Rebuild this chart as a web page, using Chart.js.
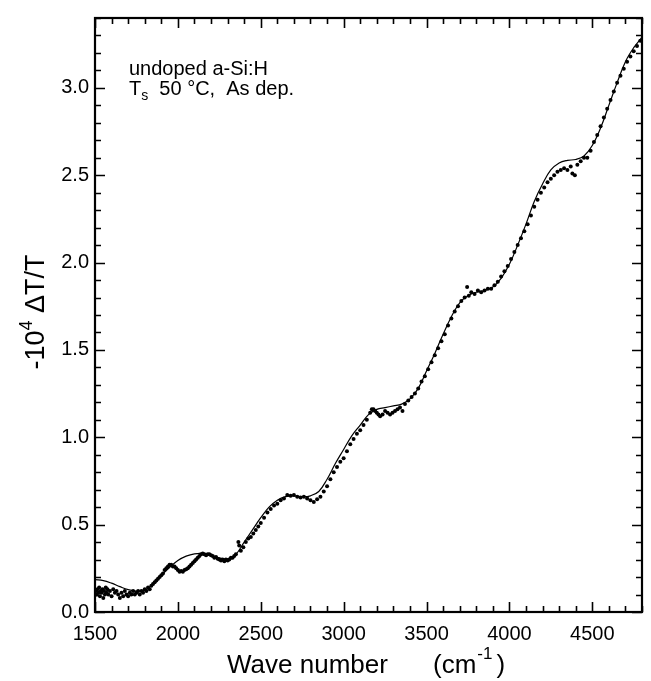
<!DOCTYPE html>
<html><head><meta charset="utf-8">
<script src="https://cdn.jsdelivr.net/npm/chart.js@4/dist/chart.umd.min.js"></script>
<style>html,body{margin:0;padding:0;background:#fff}canvas{display:block}</style>
</head><body>
<canvas id="c" width="651" height="681"></canvas>
<script>
// Fitted curve (solid line)
const fitX = [1500,1550,1600,1650,1700,1750,1800,1850,1900,1950,2000,2050,2100,2150,2200,2250,2300,2350,2400,2450,2500,2550,2600,2650,2700,2750,2800,2850,2900,2950,3000,3050,3100,3150,3200,3250,3300,3350,3400,3450,3500,3550,3600,3650,3700,3750,3800,3850,3900,3950,4000,4050,4100,4150,4200,4250,4300,4350,4400,4450,4500,4550,4600,4650,4700,4750,4800];
const fitY = [0.185,0.18,0.165,0.145,0.128,0.12,0.125,0.16,0.21,0.255,0.295,0.32,0.333,0.335,0.325,0.31,0.305,0.33,0.40,0.47,0.54,0.60,0.64,0.66,0.665,0.66,0.665,0.69,0.76,0.85,0.93,1.01,1.07,1.13,1.16,1.17,1.18,1.19,1.22,1.28,1.38,1.48,1.59,1.69,1.77,1.81,1.83,1.84,1.86,1.91,1.99,2.10,2.22,2.35,2.45,2.53,2.57,2.585,2.59,2.61,2.67,2.77,2.90,3.03,3.15,3.23,3.29];

// Measured points (dots)
const dotX = [1505,1510,1515,1520,1525,1530,1535,1540,1545,1550,1555,1560,1565,1570,1575,1580,1590,1600,1610,1620,1630,1640,1650,1660,1670,1680,1690,1700,1710,1720,1730,1740,1750,1760,1770,1780,1790,1800,1810,1820,1830,1840,1850,1860,1870,1880,1890,1900,1910,1920,1930,1940,1950,1960,1970,1980,1990,2000,2010,2020,2030,2040,2050,2060,2070,2080,2090,2100,2110,2120,2130,2140,2150,2160,2170,2180,2190,2200,2210,2220,2230,2240,2250,2260,2270,2280,2290,2300,2310,2320,2330,2340,2350,2365,2370,2380,2395,2410,2425,2440,2455,2470,2485,2500,2520,2540,2560,2580,2600,2620,2640,2660,2680,2700,2720,2740,2760,2780,2800,2820,2840,2860,2880,2900,2920,2940,2960,2980,3000,3020,3040,3060,3080,3100,3120,3140,3160,3170,3180,3190,3200,3210,3220,3235,3250,3265,3280,3295,3310,3325,3340,3355,3370,3390,3410,3430,3450,3470,3490,3510,3530,3550,3570,3590,3610,3630,3650,3670,3690,3710,3730,3745,3755,3770,3790,3810,3830,3850,3870,3890,3910,3930,3950,3970,3990,4010,4030,4050,4070,4090,4110,4130,4150,4170,4190,4210,4230,4250,4270,4290,4310,4330,4350,4370,4380,4395,4410,4430,4450,4470,4490,4510,4530,4550,4570,4590,4610,4630,4650,4670,4690,4710,4730,4750,4770,4790];
const dotY = [0.12,0.10,0.13,0.11,0.14,0.09,0.12,0.11,0.13,0.08,0.12,0.10,0.14,0.11,0.13,0.10,0.12,0.09,0.13,0.11,0.12,0.10,0.08,0.11,0.09,0.12,0.10,0.09,0.11,0.10,0.12,0.10,0.11,0.12,0.10,0.12,0.11,0.13,0.12,0.14,0.13,0.15,0.16,0.17,0.18,0.19,0.20,0.21,0.22,0.24,0.25,0.26,0.27,0.27,0.26,0.26,0.25,0.24,0.23,0.235,0.23,0.24,0.245,0.25,0.26,0.27,0.28,0.29,0.30,0.31,0.32,0.33,0.335,0.33,0.325,0.33,0.33,0.325,0.32,0.31,0.315,0.305,0.30,0.295,0.30,0.29,0.30,0.295,0.30,0.31,0.31,0.32,0.33,0.40,0.38,0.35,0.37,0.40,0.42,0.43,0.45,0.47,0.49,0.51,0.54,0.57,0.59,0.61,0.62,0.64,0.65,0.67,0.665,0.67,0.66,0.655,0.66,0.65,0.64,0.63,0.645,0.66,0.69,0.72,0.76,0.80,0.83,0.86,0.88,0.92,0.96,0.99,1.02,1.04,1.07,1.10,1.14,1.16,1.16,1.15,1.14,1.13,1.12,1.13,1.15,1.14,1.13,1.14,1.15,1.16,1.17,1.15,1.19,1.21,1.23,1.25,1.28,1.32,1.35,1.39,1.43,1.47,1.51,1.55,1.59,1.64,1.68,1.72,1.75,1.78,1.80,1.86,1.81,1.83,1.82,1.84,1.83,1.84,1.85,1.85,1.87,1.89,1.92,1.95,1.98,2.02,2.06,2.10,2.14,2.18,2.22,2.27,2.32,2.36,2.40,2.43,2.46,2.48,2.50,2.52,2.53,2.54,2.53,2.55,2.51,2.50,2.56,2.58,2.60,2.60,2.64,2.69,2.73,2.78,2.83,2.88,2.93,2.98,3.03,3.07,3.11,3.15,3.18,3.21,3.24,3.27];

// Axis tick labels
const xTicks = [1500,2000,2500,3000,3500,4000,4500];
const yTicks = [0.0,0.5,1.0,1.5,2.0,2.5,3.0];

const FONT = '"Liberation Sans", Arial, Helvetica, sans-serif';

// Frame, inward ticks on all four sides, axis titles and the sample note
const framePlugin = {
  id: 'frame',
  afterDraw(chart) {
    const ctx = chart.ctx, a = chart.chartArea;
    const xs = chart.scales.x, ys = chart.scales.y;
    ctx.save();
    ctx.strokeStyle = '#000';
    ctx.lineWidth = 1.6;
    for (let k = 15; k <= 48; k++) {
      const px = Math.round(xs.getPixelForValue(k * 100)) + 0.5;
      const len = (k % 5 === 0) ? 10 : 6;
      ctx.beginPath();
      ctx.moveTo(px, a.bottom); ctx.lineTo(px, a.bottom - len);
      ctx.moveTo(px, a.top); ctx.lineTo(px, a.top + len);
      ctx.stroke();
    }
    for (let k = 0; k <= 34; k++) {
      const py = Math.round(ys.getPixelForValue(k / 10)) + 0.5;
      const len = (k % 5 === 0) ? 10 : 6;
      ctx.beginPath();
      ctx.moveTo(a.left, py); ctx.lineTo(a.left + len, py);
      ctx.moveTo(a.right, py); ctx.lineTo(a.right - len, py);
      ctx.stroke();
    }
    ctx.lineWidth = 2.2;
    ctx.strokeRect(a.left, a.top, a.right - a.left, a.bottom - a.top);

    ctx.fillStyle = '#000';
    ctx.textBaseline = 'alphabetic';
    ctx.textAlign = 'left';

    // x axis title
    ctx.font = '26px ' + FONT;
    ctx.fillText('Wave number', 227, 673);
    let x0 = 433;
    ctx.fillText('(cm', x0, 673);
    x0 += ctx.measureText('(cm').width + 1;
    ctx.font = '17px ' + FONT;
    ctx.fillText('-1', x0, 659);
    x0 += ctx.measureText('-1').width + 4;
    ctx.font = '26px ' + FONT;
    ctx.fillText(')', x0, 673);

    // y axis title (rotated)
    ctx.save();
    ctx.translate(44, 0);
    ctx.rotate(-Math.PI / 2);
    const parts = [['-10', 27, 0], ['4', 18, -12], [' \u0394T/T', 27, 0]];
    let w = 0;
    parts.forEach(p => { ctx.font = p[1] + 'px ' + FONT; w += ctx.measureText(p[0]).width; });
    let s = -(312 + w / 2);
    parts.forEach(p => {
      ctx.font = p[1] + 'px ' + FONT;
      ctx.fillText(p[0], s, p[2]);
      s += ctx.measureText(p[0]).width;
    });
    ctx.restore();

    // sample note
    ctx.font = '20px ' + FONT;
    ctx.fillText('undoped a-Si:H', 129, 75);
    ctx.fillText('T', 129, 95);
    let tx = 129 + ctx.measureText('T').width;
    ctx.font = '14px ' + FONT;
    ctx.fillText('s', tx, 100);
    tx += ctx.measureText('s').width;
    ctx.font = '20px ' + FONT;
    ctx.fillText('  50 \u00B0C,  As dep.', tx, 95);
    ctx.restore();
  }
};

new Chart(document.getElementById('c'), {
  type: 'scatter',
  data: {
    datasets: [
      {
        label: 'fit',
        type: 'line',
        data: fitX.map((x, i) => ({ x: x, y: fitY[i] })),
        borderColor: '#000',
        borderWidth: 1.2,
        pointRadius: 0,
        tension: 0.4,
        fill: false
      },
      {
        label: 'measured',
        data: dotX.map((x, i) => ({ x: x, y: dotY[i] })),
        showLine: false,
        pointRadius: 2,
        pointBorderWidth: 0,
        backgroundColor: '#000',
        borderColor: '#000'
      }
    ]
  },
  options: {
    responsive: false,
    animation: false,
    layout: { padding: { top: 11, right: 9, left: 0, bottom: 0 } },
    plugins: { legend: { display: false }, tooltip: { enabled: false } },
    scales: {
      x: {
        type: 'linear', min: 1500, max: 4800,
        grid: { display: false, drawTicks: false },
        border: { display: false },
        afterBuildTicks: s => { s.ticks = xTicks.map(v => ({ value: v })); },
        afterFit: s => { s.height = 69; },
        ticks: { color: '#000', padding: 10, maxRotation: 0, font: { size: 20, family: FONT }, callback: v => String(v) }
      },
      y: {
        type: 'linear', min: 0, max: 3.4,
        grid: { display: false, drawTicks: false },
        border: { display: false },
        afterBuildTicks: s => { s.ticks = yTicks.map(v => ({ value: v })); },
        afterFit: s => { s.width = 95; },
        ticks: { color: '#000', padding: 6, font: { size: 20, family: FONT }, callback: v => Number(v).toFixed(1) }
      }
    }
  },
  plugins: [framePlugin]
});
</script>
</body></html>
